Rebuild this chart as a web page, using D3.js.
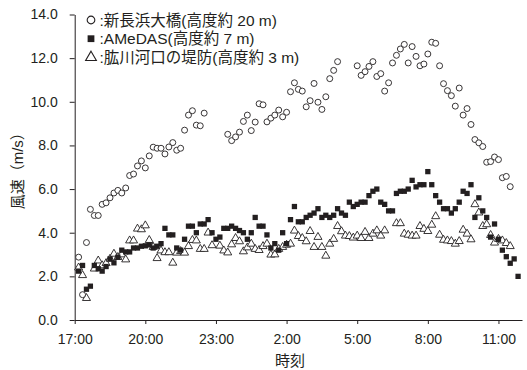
<!DOCTYPE html>
<html>
<head>
<meta charset="utf-8">
<script src="https://cdn.jsdelivr.net/npm/d3@7"></script>
<style>
  body { margin: 0; background: #fff; }
  svg { display: block; }
  text { fill: #231f20; }
  .tick text { font-family: "Liberation Sans", Arial, sans-serif; font-size: 14px; }
  .legend text, .title { font-family: "Liberation Sans", "Noto Sans CJK JP", sans-serif; }
</style>
</head>
<body>
<svg id="chart" width="527" height="370"></svg>
<script>
// 10-minute readings, first reading at 17:10, null = no point plotted
const startMinute = 10;
const stepMinute = 10;

const bridgeValues = [
  2.88, 1.16, 3.55, 5.07, 4.79, 4.79, 5.30, 5.37, 5.60, 5.82,
  5.94, 5.82, 6.05, 6.62, 6.69, 7.06, 7.29, 6.97, 7.52, 7.92,
  7.87, 7.87, 7.61, 7.93, 8.13, 7.78, 7.87, 8.70, 9.39, 9.59,
  8.93, 8.90, 9.48, null, null, null, null, null, 8.51, 8.22,
  8.39, 8.61, 9.10, 9.39, 8.68, 9.07, 9.91, 9.86, 9.08, 9.25,
  9.39, 9.62, 9.31, 9.52, 10.46, 10.87, 10.57, 10.49, 9.77, 10.05,
  10.84, 9.98, 9.65, 10.23, 11.06, 11.44, 11.84, null, null, null,
  null, 11.65, 11.21, 11.38, 11.62, 11.84, 11.16, 11.29, 10.49, 10.87,
  11.78, 12.13, 12.42, 12.63, 11.78, 12.53, 12.08, 11.65, 11.73, 12.19,
  12.73, 12.68, 11.65, 10.83, 10.51, 10.28, 9.80, 10.63, 9.39, 9.69,
  8.96, 8.27, 8.12, 7.95, 7.23, 7.26, 7.47, 7.35, 6.52, 6.58,
  6.11, null, null
];

const amedasValues = [
  2.24, 2.50, 1.41, 1.55, 2.50, 2.35, 2.24, 2.45, 2.80, 2.62,
  2.88, 3.20, 3.12, 3.12, 3.30, 3.30, 3.38, 3.40, 3.44, 3.30,
  3.38, 3.50, 4.20, 3.90, 3.90, 3.30, 3.20, 3.70, 4.30, 4.30,
  4.00, 4.40, 4.40, 4.60, 4.00, 3.70, 3.80, 4.20, 4.20, 4.30,
  4.20, 4.10, 4.00, 3.70, 4.00, 4.70, 4.30, 4.30, 3.90, 3.30,
  3.50, 3.20, 4.00, 3.50, 4.60, 5.20, 4.50, 4.50, 4.70, 4.80,
  4.90, 5.10, 4.70, 4.80, 4.70, 4.80, 5.10, 4.90, 4.80, 5.40,
  5.20, 5.30, 5.40, 5.40, 5.70, 5.90, 6.00, 5.40, 5.30, 5.00,
  5.00, 5.80, 5.90, 5.90, 6.00, 6.40, 6.10, 6.20, 6.20, 6.80,
  6.20, 5.70, 5.40, 5.10, 5.10, 4.90, 5.10, 5.40, 5.90, 5.80,
  6.20, 4.70, 5.60, 5.00, 4.70, 3.80, 4.40, 3.70, 3.20, 2.90,
  2.60, 2.80, 2.00
];

const leveeValues = [
  2.40, 2.05, 1.00, null, 2.35, 2.72, 2.50, 2.60, 2.80, 3.03,
  2.88, 3.00, 2.77, 3.64, 3.64, 4.18, 4.15, 4.33, 3.66, 3.34,
  2.83, 3.18, 3.10, 3.10, 2.62, 3.08, 3.15, 3.08, 3.38, 3.66,
  3.64, 3.25, 3.25, 4.00, 3.42, null, 3.40, 3.18, 3.09, 3.46,
  3.75, 3.60, 3.14, 3.32, 3.49, 3.25, 3.20, 3.38, 3.49, 2.99,
  3.00, 3.25, 3.34, 3.44, 3.49, 4.09, 3.84, 3.75, 3.60, 4.07,
  3.34, 3.80, 3.34, 2.94, 3.49, 3.71, 4.30, 4.06, 3.86, 3.84,
  3.77, 3.86, 3.75, 4.03, 3.75, 3.95, 4.10, 3.86, 4.10, null,
  null, 4.43, 4.43, 3.95, 3.90, 3.86, 3.86, 4.30, 4.17, 4.07,
  4.36, 4.75, 3.90, 3.67, 3.64, 3.61, 3.49, 3.61, 4.13, 3.95,
  3.69, 5.30, 4.92, 4.30, 4.38, 3.89, 3.54, 3.71, 3.64, 3.52,
  3.38, null, null
];

const seriesNames = [
  "\u65b0\u9577\u6d5c\u5927\u6a4b(\u9ad8\u5ea6\u7d04 20 m)",
  "AMeDAS(\u9ad8\u5ea6\u7d04 7 m)",
  "\u80b1\u5ddd\u6cb3\u53e3\u306e\u5824\u9632(\u9ad8\u5ea6\u7d04 3 m)"
];

const xTickMinutes = [0, 180, 360, 540, 720, 900, 1080];
const xTickLabels = ["17:00", "20:00", "23:00", "2:00", "5:00", "8:00", "11:00"];
const yTicks = [0, 2, 4, 6, 8, 10, 12, 14];
const xTitle = "\u6642\u523b";
const yTitle = "\u98a8\u901f\uff08m/s\uff09";

const ink = "#231f20";
const width = 527, height = 370;
const margin = { top: 14.5, right: 5, bottom: 50, left: 74.7 };

const svg = d3.select("#chart");

const x = d3.scaleLinear().domain([0, 1140]).range([margin.left, width - margin.right]);
const y = d3.scaleLinear().domain([0, 14]).range([height - margin.bottom, margin.top]);

const toPoints = values => values
  .map((v, i) => ({ t: startMinute + i * stepMinute, v }))
  .filter(d => d.v !== null);

// axes
svg.append("g")
  .attr("transform", `translate(0,${y(0)})`)
  .call(d3.axisBottom(x)
    .tickValues(xTickMinutes)
    .tickFormat((d, i) => xTickLabels[i])
    .tickSize(4).tickSizeOuter(0).tickPadding(10))
  .call(g => g.selectAll("path, line").attr("stroke", ink));

svg.append("g")
  .attr("transform", `translate(${margin.left},0)`)
  .call(d3.axisLeft(y)
    .tickValues(yTicks)
    .tickFormat(d3.format(".1f"))
    .tickSize(5).tickSizeOuter(0).tickPadding(12))
  .call(g => g.selectAll("path, line").attr("stroke", ink));

svg.append("text")
  .attr("class", "title")
  .attr("x", 290).attr("y", 366)
  .attr("text-anchor", "middle")
  .style("font-size", "15px")
  .text(xTitle);

svg.append("text")
  .attr("class", "title")
  .attr("transform", `translate(23,${(y(0) + y(14)) / 2}) rotate(-90)`)
  .attr("text-anchor", "middle")
  .style("font-size", "15px")
  .text(yTitle);

// markers
const circleSym = d3.symbol().type(d3.symbolCircle).size(28);
const squareSym = d3.symbol().type(d3.symbolSquare).size(28);
const triSym = d3.symbol().type(d3.symbolTriangle).size(28);

const layers = [
  { values: leveeValues, sym: triSym, fill: "#fff", stroke: ink },
  { values: amedasValues, sym: squareSym, fill: ink, stroke: "none" },
  { values: bridgeValues, sym: circleSym, fill: "#fff", stroke: ink }
];

layers.forEach(layer => {
  svg.append("g")
    .selectAll("path")
    .data(toPoints(layer.values))
    .join("path")
    .attr("transform", d => `translate(${x(d.t)},${y(d.v)})`)
    .attr("d", layer.sym)
    .attr("fill", layer.fill)
    .attr("stroke", layer.stroke)
    .attr("stroke-width", 0.9);
});

// legend
const legendSyms = [
  { sym: d3.symbol().type(d3.symbolCircle).size(46), fill: "#fff", stroke: ink },
  { sym: d3.symbol().type(d3.symbolSquare).size(46), fill: ink, stroke: "none" },
  { sym: d3.symbol().type(d3.symbolTriangle).size(50), fill: "#fff", stroke: ink }
];

const legend = svg.append("g").attr("class", "legend");
seriesNames.forEach((name, i) => {
  const rowY = 20 + i * 18.7;
  legend.append("path")
    .attr("transform", `translate(91,${rowY})`)
    .attr("d", legendSyms[i].sym)
    .attr("fill", legendSyms[i].fill)
    .attr("stroke", legendSyms[i].stroke)
    .attr("stroke-width", 1.1);
  legend.append("text")
    .attr("x", 99.5).attr("y", rowY + 5.5)
    .style("font-size", "15.5px")
    .text(":" + name);
});
</script>
</body>
</html>
